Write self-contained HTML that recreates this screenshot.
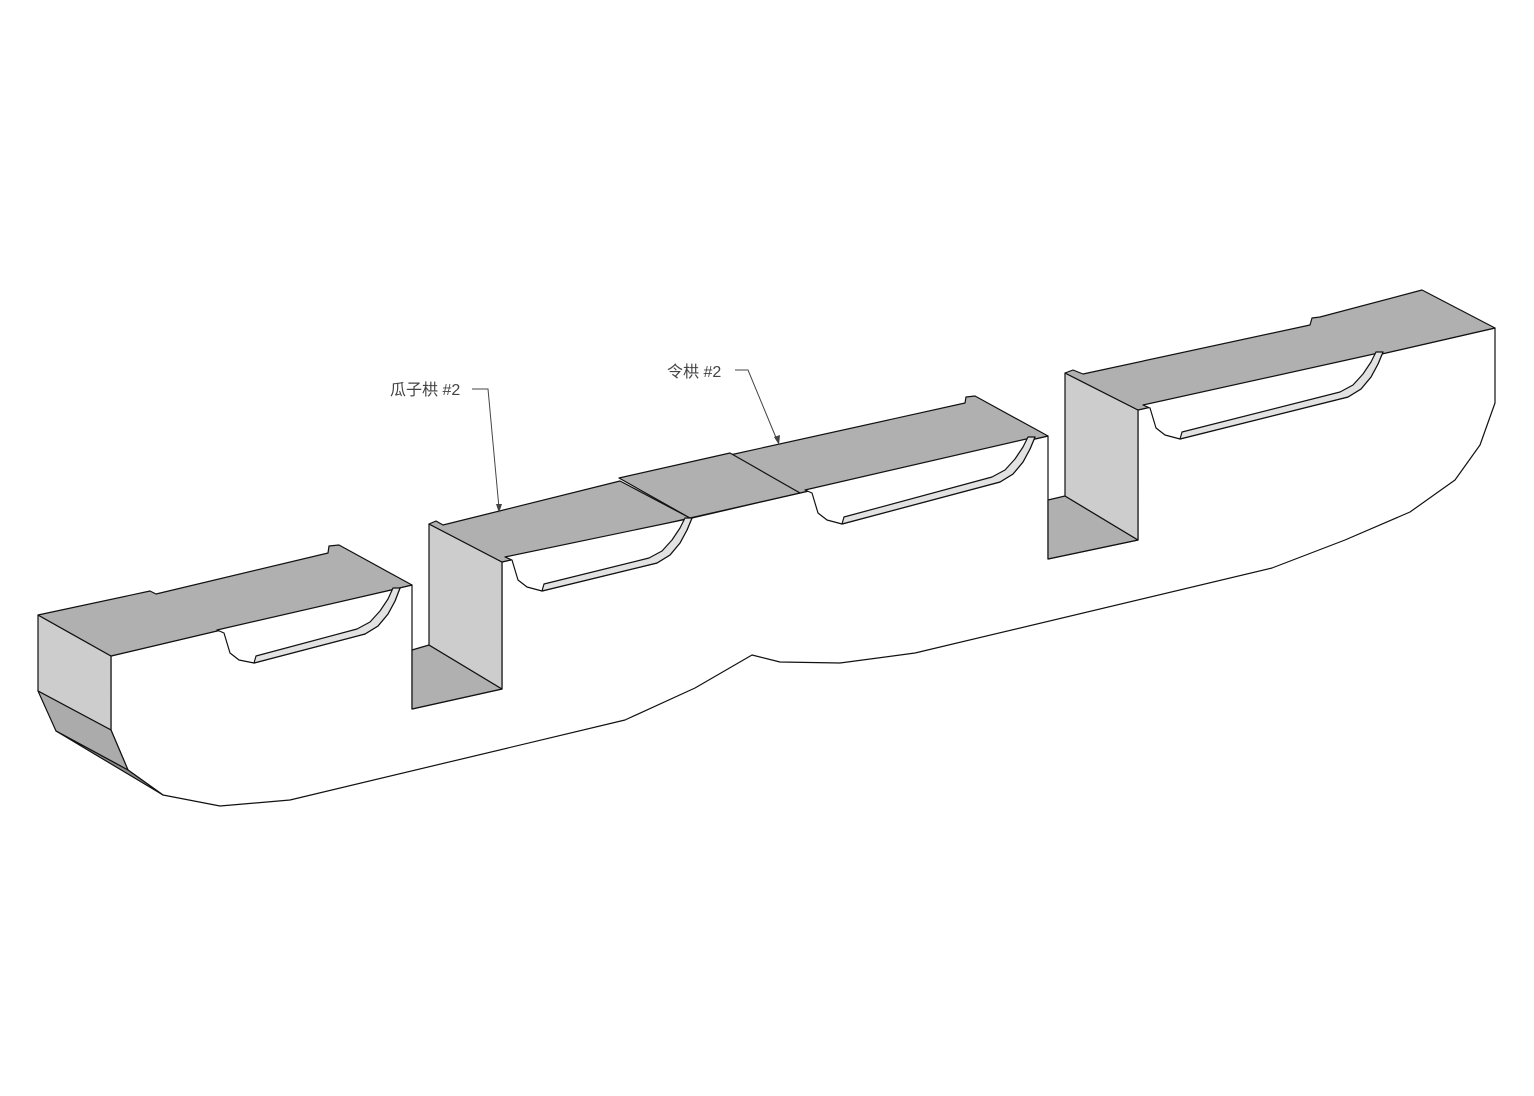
<!DOCTYPE html>
<html><head><meta charset="utf-8"><style>
html,body{margin:0;padding:0;background:#fff;}
svg{display:block}
text{font-family:"Liberation Sans","Noto Sans CJK SC",sans-serif;font-size:16px;fill:#444}
</style></head><body>
<svg width="1534" height="1096" viewBox="0 0 1534 1096" xmlns="http://www.w3.org/2000/svg">
<g stroke="#111" stroke-width="1.2" stroke-linejoin="round">
<polygon fill="#fff" points="111,656 111,730 128,770 163,795 220,806 290,800 625,720 695,688 752,655 780,662 840,663 915,653 1272,568 1345,540 1410,512 1455,480 1480,445 1495,403 1495,328 1138,410 1138,540 1048,559 1048,436 800,493 502,562 502,689 412,709 412,585"/>
<polygon fill="#cdcdcd" points="38,615 111,656 111,730 38,691"/>
<polygon fill="#ababab" points="38,691 111,730 128,770 56,731"/>
<polygon fill="#8a8a8a" points="56,731 128,770 163,795"/>
<polygon fill="#b0b0b0" points="412,650 429,645 502,689 412,709"/>
<polygon fill="#cdcdcd" points="429,524 502,562 502,689 429,645"/>
<polygon fill="#b0b0b0" points="1048,500 1065,496 1138,540 1048,559"/>
<polygon fill="#cdcdcd" points="1065,373 1138,410 1138,540 1065,496"/>
<polygon fill="#b0b0b0" points="38,615 150,591 156,594 328,553 329,546 339,545 412,585 111,656"/>
<polygon fill="#b0b0b0" points="429,524 436,521 443,525 620,481 690,518 502,562"/>
<polygon fill="#b0b0b0" points="730,455 965,403 966,397 975,396 1048,436 800,493"/>
<polygon fill="#b0b0b0" points="619,478 730,453 800,493 690,518"/>
<polygon fill="#b0b0b0" points="1065,373 1073,370 1083,374 1310,325 1312,318 1320,317 1422,290 1495,328 1138,410"/>
<polygon fill="#fff" points="217,630 224,633 227,643 230,653 239,660 254,663 365,634 378,626 388,614 395,601 400,588"/>
<polygon fill="#e2e2e2" points="254,663 365,634 378,626 388,614 395,601 400,588 393,588 388,599 380,611 370,622 357,629 256,656"/>
<polygon fill="#fff" points="505,557 512,560 515,570 518,580 527,587 542,591 657,563 670,555 680,543 687,530 692,518"/>
<polygon fill="#e2e2e2" points="542,591 657,563 670,555 680,543 687,530 692,518 685,518 680,528 672,540 662,551 649,558 544,584"/>
<polygon fill="#fff" points="805,490 812,493 815,503 818,513 827,520 842,524 1000,482 1013,474 1023,462 1030,449 1035,437"/>
<polygon fill="#e2e2e2" points="842,524 1000,482 1013,474 1023,462 1030,449 1035,437 1028,437 1023,447 1015,459 1005,470 992,477 844,517"/>
<polygon fill="#fff" points="1143,405 1150,408 1153,418 1156,428 1165,435 1180,439 1348,397 1361,389 1371,377 1378,364 1383,352"/>
<polygon fill="#e2e2e2" points="1180,439 1348,397 1361,389 1371,377 1378,364 1383,352 1376,352 1371,362 1363,374 1353,385 1340,392 1182,432"/>
</g>
<text x="390" y="395">瓜子栱 #2</text>
<polyline points="472,389 488,389 499,508" fill="none" stroke="#444" stroke-width="1"/>
<polygon points="499,513 496,504 502,504" fill="#444"/>
<text x="667" y="377">令栱 #2</text>
<polyline points="735,370 748,370 777,440" fill="none" stroke="#444" stroke-width="1"/>
<polygon points="779,445 774,437 780,435" fill="#444"/>
</svg>
</body></html>
